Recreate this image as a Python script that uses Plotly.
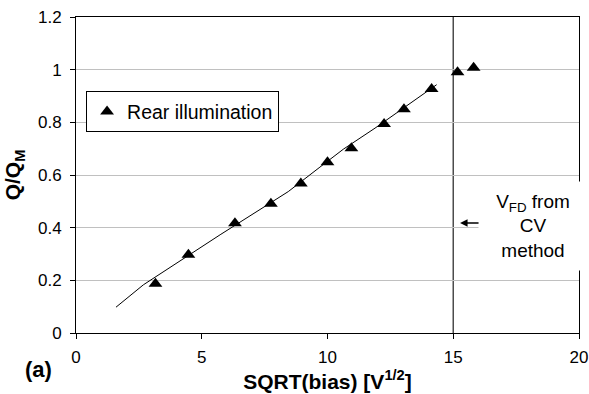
import plotly.graph_objects as go

# Measured charge collection vs square root of bias voltage
sqrt_bias = [3.16, 4.47, 6.32, 7.75, 8.94, 10.0, 10.95, 12.25, 13.04, 14.14, 15.17, 15.81]
q_ratio = [0.187, 0.297, 0.417, 0.491, 0.568, 0.648, 0.702, 0.794, 0.850, 0.927, 0.990, 1.007]

# Guide line through the rising part
fit_x = [1.59, 2.68, 5.73, 7.25, 8.44, 9.70, 10.63, 11.89, 14.34]
fit_y = [0.098, 0.183, 0.373, 0.464, 0.537, 0.630, 0.698, 0.778, 0.943]

# Full-depletion voltage (sqrt) from the CV method
vfd_sqrt = 15.0

x_ticks = [0, 5, 10, 15, 20]
y_ticks = [0, 0.2, 0.4, 0.6, 0.8, 1.0, 1.2]

FONT = "Liberation Sans, Arial, sans-serif"

fig = go.Figure()

fig.add_trace(go.Scatter(
    x=fit_x, y=fit_y, mode="lines",
    line=dict(color="black", width=1),
    showlegend=False, hoverinfo="skip",
))

fig.add_trace(go.Scatter(
    x=sqrt_bias, y=q_ratio, mode="markers",
    name="Rear illumination",
    marker=dict(symbol="triangle-up", size=12, color="black", line=dict(width=0)),
))

fig.add_shape(
    type="line", xref="x", yref="paper",
    x0=vfd_sqrt, x1=vfd_sqrt, y0=0, y1=1,
    line=dict(color="#4d4d4d", width=1.5), layer="below",
)

# Text box labelling the CV-method depletion voltage
fig.add_annotation(
    xref="x", yref="y", x=18.17, y=0.407,
    text="V<sub>FD</sub> from<br>CV<br>method",
    showarrow=False, align="center",
    font=dict(family=FONT, size=19, color="black"),
    bgcolor="white", width=106, height=86,
)

fig.add_annotation(
    xref="x", yref="y", x=15.27, y=0.418,
    ax=20, ay=0, axref="pixel", ayref="pixel",
    text="", showarrow=True,
    arrowhead=2, arrowsize=1, arrowwidth=1.5, arrowcolor="black",
)

fig.add_annotation(
    xref="paper", yref="paper", x=-0.0755, y=-0.117,
    text="<b>(a)</b>", showarrow=False,
    xanchor="center", yanchor="middle",
    font=dict(family=FONT, size=22, color="black"),
)

fig.update_layout(
    width=589, height=394,
    margin=dict(l=76, r=10, t=17, b=61, autoexpand=False),
    paper_bgcolor="white", plot_bgcolor="white",
    font=dict(family=FONT, size=17, color="black"),
    showlegend=True,
    legend=dict(
        x=0.02, y=0.765, xanchor="left", yanchor="top",
        bgcolor="white", bordercolor="black", borderwidth=1,
        font=dict(family=FONT, size=19.5, color="black"),
        itemwidth=30,
    ),
    xaxis=dict(
        range=[0, 20], tickvals=x_ticks, automargin=False,
        showgrid=False, zeroline=False,
        showline=True, linecolor="black", linewidth=1, mirror=True,
        ticks="outside", ticklen=5, tickcolor="black",
        tickfont=dict(family=FONT, size=17), ticklabelstandoff=4,
        title=dict(text="<b>SQRT(bias) [V<sup>1/2</sup>]</b>",
                   font=dict(family=FONT, size=21), standoff=3),
    ),
    yaxis=dict(
        range=[0, 1.2], tickvals=y_ticks, automargin=False,
        showgrid=True, gridcolor="#c0c0c0", gridwidth=1,
        zeroline=False,
        showline=True, linecolor="black", linewidth=1, mirror=True,
        ticks="outside", ticklen=5, tickcolor="black",
        tickfont=dict(family=FONT, size=17), ticklabelstandoff=5,
        title=dict(text="<b>Q/Q<sub>M</sub></b>",
                   font=dict(family=FONT, size=21), standoff=11),
    ),
)

fig.write_html("out.html")
